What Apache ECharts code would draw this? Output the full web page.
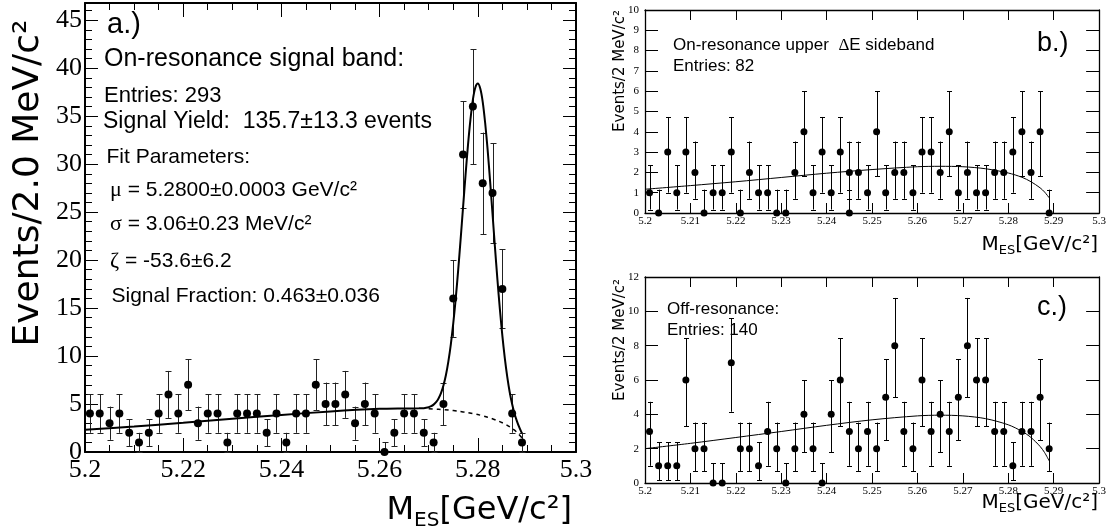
<!DOCTYPE html>
<html><head><meta charset="utf-8">
<script src="https://cdn.jsdelivr.net/npm/echarts@6/dist/echarts.min.js"></script>
<style>html,body{margin:0;padding:0;background:#fff}#c{width:1109px;height:531px}</style>
</head><body><div id="c"></div>
<script>
// ---- data ----
const binCenters = [5.201,5.203,5.205,5.207,5.209,5.211,5.213,5.215,5.217,5.219,5.221,5.223,5.225,5.227,5.229,5.231,5.233,5.235,5.237,5.239,5.241,5.243,5.245,5.247,5.249,5.251,5.253,5.255,5.257,5.259,5.261,5.263,5.265,5.267,5.269,5.271,5.273,5.275,5.277,5.279,5.281,5.283,5.285,5.287,5.289];
const aCounts = [4,4,3,4,2,1,2,4,6,4,7,3,4,4,1,4,4,4,2,4,1,4,4,7,5,5,6,3,5,4,0,2,4,4,2,1,5,16,31,36,28,27,17,4,1];
const bCounts = [1,0,3,1,3,2,0,1,1,3,0,2,1,1,0,0,2,4,1,3,1,3,2,2,1,4,1,2,2,1,3,3,2,4,1,2,1,1,2,2,3,4,2,4,0];
const bExtraX = [5.245];
const bExtraCounts = [0];
const cCounts = [3,1,1,1,6,2,2,0,0,7,2,2,1,3,2,0,2,4,2,0,4,6,3,2,3,2,5,8,3,2,6,3,4,3,5,8,6,6,3,3,1,3,3,5,2];
const poisLo = [0,0.17,0.7,1.0,1.8,2.5,3.3,4.15,5.0];
const poisHi = [1.15,2.36,3.52,4.73,6.0,7.22,8.43,9.61,10.78];
const aZeroErr = 1;
// fit curves
const aFitX = [5.2,5.21,5.22,5.23,5.24,5.25,5.26,5.265,5.268,5.269,5.27,5.2705,5.271,5.2715,5.272,5.2725,5.273,5.2735,5.274,5.2745,5.275,5.2755,5.276,5.2765,5.277,5.2775,5.278,5.2785,5.279,5.2795,5.28,5.2805,5.281,5.2815,5.282,5.2825,5.283,5.2835,5.284,5.2845,5.285,5.2855,5.286,5.2865,5.287,5.2875,5.288,5.2885,5.289];
const aFitY = [2.31,2.66,3.05,3.46,3.86,4.23,4.50,4.54,4.55,4.57,4.67,4.77,4.94,5.19,5.58,6.14,6.94,8.00,9.42,11.20,13.40,15.98,18.93,22.16,25.52,28.85,31.98,34.64,36.73,37.99,38.40,37.88,36.50,34.29,31.51,28.26,24.81,21.31,17.95,14.86,12.14,9.78,7.83,6.23,4.98,3.97,3.17,2.51,1.94];
const aBkgX = [5.27,5.272,5.274,5.276,5.278,5.28,5.282,5.284,5.285,5.286,5.287,5.288,5.289];
const aBkgY = [4.50,4.45,4.37,4.25,4.10,3.90,3.63,3.27,3.05,2.78,2.45,2.04,1.48];
const bcFitX = [5.2,5.21,5.22,5.23,5.24,5.25,5.26,5.265,5.27,5.275,5.28,5.283,5.285,5.287,5.288,5.289];
const bFitY = [1.17,1.35,1.54,1.75,1.96,2.14,2.28,2.30,2.28,2.18,1.97,1.76,1.54,1.24,1.03,0.75];
const cFitY = [2.0,2.31,2.65,3.0,3.36,3.68,3.91,3.95,3.91,3.75,3.39,3.01,2.65,2.13,1.77,1.29];
// axis ranges
const xMin = 5.2, xMax = 5.3;
const aYMax = 46.8, bYMax = 10, cYMax = 12;

// ---- build ----
const pts = (xs, ys) => xs.map((x, i) => [x, ys[i]]);
const aErr = binCenters.map((x, i) => { const n = aCounts[i]; const e = n === 0 ? aZeroErr : Math.sqrt(n); return [x, Math.max(0, n - e), n + e]; });
const poisErr = (xs, ns) => xs.map((x, i) => [x, poisLo[ns[i]], poisHi[ns[i]]]);
const bAllX = binCenters.concat(bExtraX), bAllN = bCounts.concat(bExtraCounts);

function errRender(cap, color) {
  return function (params, api) {
    const x = api.value(0), lo = api.value(1), hi = api.value(2);
    const p1 = api.coord([x, hi]), p2 = api.coord([x, lo]);
    const px = Math.round(p1[0]) + 0.5;
    const st = { stroke: color, lineWidth: 1 };
    return { type: 'group', children: [
      { type: 'line', shape: { x1: px, y1: p1[1], x2: px, y2: p2[1] }, style: st },
      { type: 'line', shape: { x1: px - cap, y1: Math.round(p1[1]) + 0.5, x2: px + cap, y2: Math.round(p1[1]) + 0.5 }, style: st },
      { type: 'line', shape: { x1: px - cap, y1: Math.round(p2[1]) + 0.5, x2: px + cap, y2: Math.round(p2[1]) + 0.5 }, style: st }
    ]};
  };
}
const serif = 'Liberation Serif';
const fmtX = v => String(parseFloat(v.toFixed(3)));
function xAx(grid, pos, labels, c) {
  return { type: 'value', gridIndex: grid, position: pos, min: xMin, max: xMax, interval: c.interval,
    axisLine: { show: true, onZero: false, lineStyle: { color: '#000', width: c.frame } },
    axisTick: { show: true, inside: true, length: c.tick, lineStyle: { color: '#000', width: 1 } },
    minorTick: { show: !!c.minor, splitNumber: c.minor || 5, length: c.minorLen || 0, lineStyle: { color: '#000', width: 1 } },
    axisLabel: { show: labels, formatter: fmtX, fontFamily: serif, fontSize: c.font, color: '#000', margin: c.margin },
    splitLine: { show: false } };
}
function yAx(grid, pos, labels, c) {
  return { type: 'value', gridIndex: grid, position: pos, min: 0, max: c.max, interval: c.interval,
    axisLine: { show: true, onZero: false, lineStyle: { color: '#000', width: c.frame } },
    axisTick: { show: true, inside: true, length: c.tick, lineStyle: { color: '#000', width: 1 } },
    minorTick: { show: !!c.minor, splitNumber: c.minor || 5, length: c.minorLen || 0, lineStyle: { color: '#000', width: 1 } },
    axisLabel: { show: labels, showMaxLabel: c.showMax, fontFamily: serif, fontSize: c.font, color: '#000', margin: c.margin },
    splitLine: { show: false } };
}
const ax = { interval: 0.02, frame: 2, tick: 14, minor: 4, minorLen: 7, font: 26, margin: 5 };
const ay = { max: aYMax, interval: 5, frame: 2, tick: 13, minor: 5, minorLen: 7, font: 26, margin: 3, showMax: false };
const bx = { interval: 0.01, frame: 1.3, tick: 10, font: 11, margin: 3 };
const by = { max: bYMax, interval: 1, frame: 1.3, tick: 13, font: 11, margin: 6, showMax: true };
const cy = { max: cYMax, interval: 2, frame: 1.3, tick: 13, font: 11, margin: 6, showMax: true };

const sans = 'Liberation Sans';
function T(x, y, text, size) {
  return { type: 'text', x: x, y: y, style: { text: text, fontSize: size, fontFamily: sans, fill: '#000', align: 'left', verticalAlign: 'middle' } };
}
function greek(x, y, g, rest, size) {
  return { type: 'text', x: x, y: y, style: { text: '{g|' + g + '}{t|' + rest + '}', fill: '#000', align: 'left', verticalAlign: 'middle',
    rich: { g: { fontSize: size + 1, fontFamily: serif, fill: '#000' }, t: { fontSize: size, fontFamily: sans, fill: '#000' } } } };
}
function mesTitle(xr, y, big, small, padTop) {
  return { type: 'text', x: xr, y: y, style: { text: '{m|M}{s|ES}{m|[GeV/c²]}', align: 'right', verticalAlign: 'middle',
    rich: { m: { fontSize: big, fontFamily: 'DejaVu Sans', fill: '#000', lineHeight: Math.round(big * 1.12), verticalAlign: 'top' },
            s: { fontSize: small, fontFamily: 'DejaVu Sans', fill: '#000', lineHeight: small, verticalAlign: 'bottom', padding: [padTop, 0, 0, 0] } } } };
}
const dot = { color: '#000', opacity: 1 };

const option = {
  animation: false,
  backgroundColor: '#fff',
  grid: [
    { left: 85, top: 3, width: 491, height: 449 },
    { left: 645, top: 10, width: 455, height: 203 },
    { left: 645, top: 277, width: 455, height: 206 }
  ],
  xAxis: [xAx(0, 'bottom', true, ax), xAx(0, 'top', false, ax), xAx(1, 'bottom', true, bx), xAx(1, 'top', false, bx), xAx(2, 'bottom', true, bx), xAx(2, 'top', false, bx)],
  yAxis: [yAx(0, 'left', true, ay), yAx(0, 'right', false, ay), yAx(1, 'left', true, by), yAx(1, 'right', false, by), yAx(2, 'left', true, cy), yAx(2, 'right', false, cy)],
  series: [
    { type: 'line', xAxisIndex: 0, yAxisIndex: 0, data: pts(aBkgX, aBkgY), smooth: 0.3, symbol: 'none', lineStyle: { color: '#000', width: 1.5, type: [4, 4] } },
    { type: 'line', xAxisIndex: 0, yAxisIndex: 0, data: pts(aFitX, aFitY), smooth: 0.3, symbol: 'none', lineStyle: { color: '#000', width: 2 } },
    { type: 'custom', xAxisIndex: 0, yAxisIndex: 0, data: aErr, renderItem: errRender(3, '#222'), encode: { x: 0, y: [1, 2] }, clip: false },
    { type: 'scatter', xAxisIndex: 0, yAxisIndex: 0, data: pts(binCenters, aCounts), symbolSize: 8, itemStyle: dot, clip: false },

    { type: 'line', xAxisIndex: 2, yAxisIndex: 2, data: pts(bcFitX, bFitY), smooth: 0.3, symbol: 'none', lineStyle: { color: '#000', width: 1 } },
    { type: 'custom', xAxisIndex: 2, yAxisIndex: 2, data: poisErr(bAllX, bAllN), renderItem: errRender(2.5, '#000'), encode: { x: 0, y: [1, 2] }, clip: false },
    { type: 'scatter', xAxisIndex: 2, yAxisIndex: 2, data: pts(bAllX, bAllN), symbolSize: 7, itemStyle: dot, clip: false },

    { type: 'line', xAxisIndex: 4, yAxisIndex: 4, data: pts(bcFitX, cFitY), smooth: 0.3, symbol: 'none', lineStyle: { color: '#000', width: 1 } },
    { type: 'custom', xAxisIndex: 4, yAxisIndex: 4, data: poisErr(binCenters, cCounts), renderItem: errRender(2.5, '#000'), encode: { x: 0, y: [1, 2] }, clip: false },
    { type: 'scatter', xAxisIndex: 4, yAxisIndex: 4, data: pts(binCenters, cCounts), symbolSize: 7, itemStyle: dot, clip: false }
  ],
  graphic: [
    { type: 'text', x: 29, y: 183, rotation: Math.PI / 2, style: { text: 'Events/2.0 MeV/c²', fontSize: 36, fontFamily: 'DejaVu Sans', fill: '#000', align: 'center', verticalAlign: 'middle' } },
    { type: 'text', x: 620, y: 71, rotation: Math.PI / 2, style: { text: 'Events/2 MeV/c²', fontSize: 15, fontFamily: 'DejaVu Sans', fill: '#000', align: 'center', verticalAlign: 'middle' } },
    { type: 'text', x: 620, y: 340, rotation: Math.PI / 2, style: { text: 'Events/2 MeV/c²', fontSize: 15, fontFamily: 'DejaVu Sans', fill: '#000', align: 'center', verticalAlign: 'middle' } },
    mesTitle(572, 513, 32, 20, 20),
    mesTitle(1098, 246, 20, 13, 15),
    mesTitle(1098, 504, 20, 13, 15),
    T(107, 25, 'a.)', 29),
    T(104, 59, 'On-resonance signal band:', 25),
    T(104, 96, 'Entries: 293', 22),
    T(103, 121.5, 'Signal Yield:  135.7±13.3 events', 23),
    T(106.5, 157.6, 'Fit Parameters:', 21),
    greek(110, 190.6, 'μ', ' = 5.2800±0.0003 GeV/c²', 21),
    greek(110, 224.3, 'σ', ' = 3.06±0.23 MeV/c²', 21),
    greek(110, 261.6, 'ζ', ' = -53.6±6.2', 21),
    T(111.5, 295.8, 'Signal Fraction: 0.463±0.036', 21),
    { type: 'text', x: 673, y: 45.7, style: { text: '{t|On-resonance upper  }{g|Δ}{t|E sideband}', align: 'left', verticalAlign: 'middle',
      rich: { t: { fontSize: 17, fontFamily: sans, fill: '#000' }, g: { fontSize: 17, fontFamily: serif, fill: '#000' } } } },
    T(673, 66.7, 'Entries: 82', 17),
    T(1037, 44, 'b.)', 27),
    T(667, 309, 'Off-resonance:', 17),
    T(667, 330.7, 'Entries: 140', 17),
    T(1037, 308, 'c.)', 27)
  ]
};
const chart = echarts.init(document.getElementById('c'), null, { renderer: 'canvas' });
chart.setOption(option);
</script>
</body></html>
